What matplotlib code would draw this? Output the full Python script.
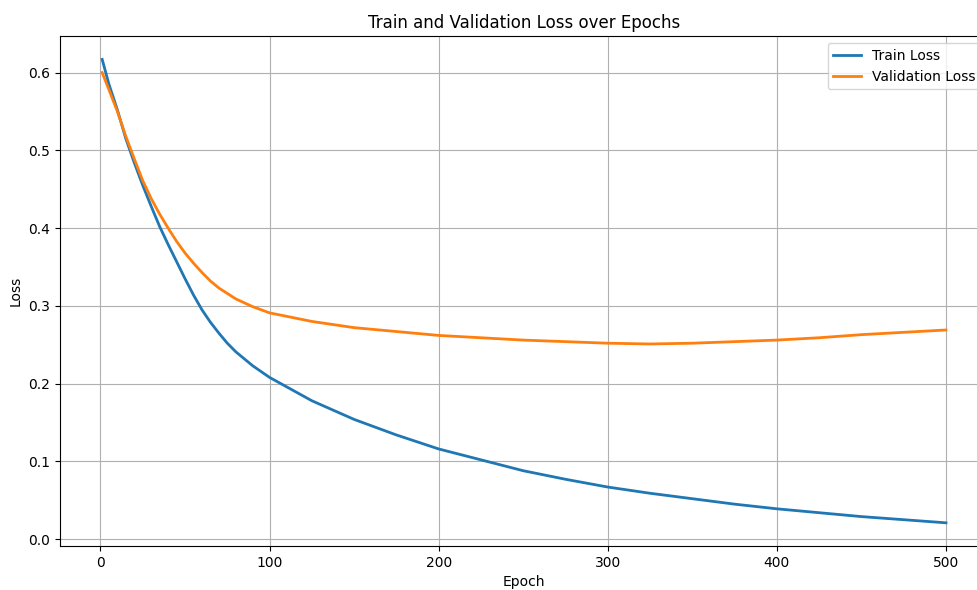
import matplotlib.pyplot as plt

epochs = [1, 5, 10, 15, 20, 25, 30, 35, 40, 45, 50, 55, 60, 65, 70, 75, 80, 90, 100,
          125, 150, 175, 200, 225, 250, 275, 300, 325, 350, 375, 400,
          425, 450, 475, 500]

train_loss = [0.617, 0.585, 0.552, 0.515, 0.484, 0.455, 0.428, 0.402, 0.379,
              0.357, 0.335, 0.314, 0.295, 0.279, 0.265, 0.252, 0.241, 0.223, 0.208,
              0.178, 0.154, 0.134, 0.116, 0.102, 0.088, 0.077, 0.067, 0.059,
              0.052, 0.045, 0.039, 0.034, 0.029, 0.025, 0.021]

val_loss = [0.600, 0.578, 0.550, 0.518, 0.489, 0.461, 0.438, 0.418, 0.400,
            0.383, 0.368, 0.355, 0.343, 0.332, 0.323, 0.316, 0.309, 0.299, 0.291,
            0.280, 0.272, 0.267, 0.262, 0.259, 0.256, 0.254, 0.252, 0.251,
            0.252, 0.254, 0.256, 0.259, 0.263, 0.266, 0.269]

fig = plt.figure(figsize=(9.77, 5.9), dpi=100)
# the original screenshot is cropped on the right, so the axes run past the edge
ax = fig.add_axes([0.0614, 0.0746, 0.950, 0.864])

ax.plot(epochs, train_loss, lw=2, label='Train Loss')
ax.plot(epochs, val_loss, lw=2, label='Validation Loss')

ax.set_title('Train and Validation Loss over Epochs')
ax.set_xlabel('Epoch')
ax.set_ylabel('Loss')
ax.legend(loc='upper right')
ax.grid(True)

fig.savefig('out.png', dpi=100)
